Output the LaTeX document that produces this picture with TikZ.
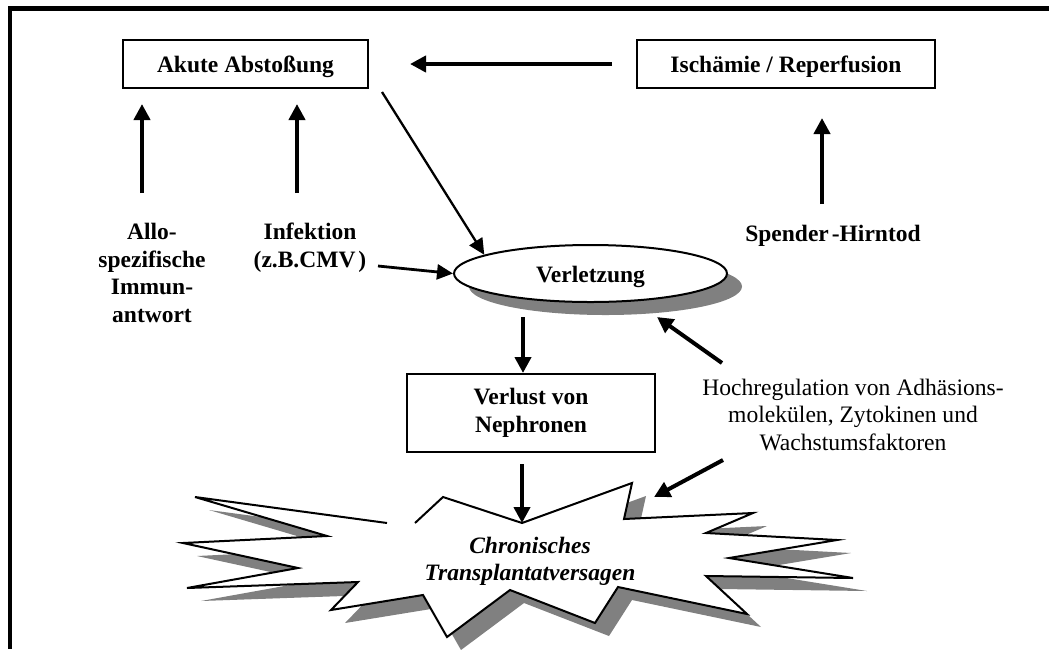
\documentclass[tikz,border=0pt]{standalone}
\usepackage{fontspec}
\setmainfont{Liberation Serif}
\usetikzlibrary{arrows.meta,shapes.geometric,shadows}
\definecolor{shade}{HTML}{808080}
% outline of the jagged "burst" shape
\newcommand\starpoly[1]{\path[#1] (195,497) -- (327,536) -- (183,543) -- (298,568)
  -- (187,588) -- (358,582) -- (331,610) -- (423,595) -- (447,637) -- (510,590)
  -- (595,623) -- (618,587) -- (747,614) -- (706,576) -- (853,578) -- (729,558)
  -- (837,540) -- (706,533) -- (753,513) -- (624,519) -- (632,483) -- (522,523)
  -- (443,497) -- (411,526) -- cycle;}
\begin{document}
\begin{tikzpicture}[x=1pt,y=-1pt,
  every node/.style={inner sep=0pt},
  txt/.style={font=\fontsize{23.5}{27.6}\selectfont\bfseries, align=center},
  txtit/.style={font=\fontsize{23.5}{27}\selectfont\bfseries\itshape, align=center},
  plain/.style={font=\fontsize{23.6}{27.5}\selectfont, align=center},
  framebox/.style={draw, line width=2pt, fill=white,
    font=\fontsize{23.5}{27.6}\selectfont\bfseries, text height=21pt, text depth=5pt},
  arr/.style={line width=4pt, -{Triangle[length=16pt,width=16pt]}},
  thinarr/.style={line width=2.3pt, -{Triangle[length=16pt,width=15pt]}},
  midarr/.style={line width=2.8pt, -{Triangle[length=16pt,width=15pt]}},
  burst/.style={line width=2pt}
]
\useasboundingbox (0,0) rectangle (1049,649);

% page frame (top and left rules)
\draw[line width=4.5pt] (1049,8.5) -- (10,8.5) -- (10,649);

% burst: shadow, white body, outline
\starpoly{fill=shade, shift={(14,13)}}
\starpoly{fill=white}
\draw[burst] (387,523) -- (195,497) -- (327,536) -- (183,543) -- (298,568)
  -- (187,588) -- (358,582) -- (331,610) -- (423,595) -- (447,637) -- (510,590)
  -- (595,623) -- (618,587) -- (747,614) -- (706,576) -- (853,578) -- (729,558)
  -- (837,540) -- (706,533) -- (753,513) -- (624,519) -- (632,483) -- (522,523)
  -- (443,497) -- (415,523);
\coordinate (stop) at (522,523);

% boxes and labels
\node[framebox, minimum width=245pt, minimum height=48pt] (akute) at (245.5,64) {Akute Abstoßung};
\node[framebox, minimum width=298pt, minimum height=48pt] (isch) at (786,64) {Ischämie / Reperfusion};

\node[txt] (allo) at (152,273) {Allo-\\spezifische\\Immun-\\antwort};
\node[txt] (infekt) at (310,248) {Infektion\\(z.B.CMV\kern3pt)};
\node[txt] (spender) at (833,236) {Spender\kern3pt-Hirntod};

\node[ellipse, draw, line width=2pt, fill=white, minimum width=273pt, minimum height=57pt,
  font=\fontsize{23.5}{27.6}\selectfont\bfseries, text height=22pt, text depth=5pt,
  drop shadow={shadow xshift=15pt, shadow yshift=-13pt, fill=shade, opacity=1}]
  (verl) at (590.5,273.5) {Verletzung};

\node[draw, line width=2pt, fill=white, minimum width=248pt, minimum height=78pt, txt]
  (verlust) at (531,413) {Verlust von\\Nephronen};

\node[plain] (hoch) at (853,414.5) {Hochregulation von Adhäsions-\\molekülen, Zytokinen und\\Wachstumsfaktoren};

\node[txtit] (chron) at (530,561) {Chronisches\\Transplantatversagen};

% connectors
\draw[arr, shorten <=24pt, shorten >=41pt] (isch.west) -- (akute.east);

\coordinate (allotop) at (142,193);
\draw[arr, shorten >=15pt] (allotop) -- (allotop |- akute.south);
\coordinate (infup) at (297,193);
\draw[arr, shorten >=15pt] (infup) -- (infup |- akute.south);
\coordinate (spup) at (822,204);
\draw[arr, shorten >=29pt] (spup) -- (spup |- isch.south);

\coordinate (diag) at (382,92);
\draw[thinarr] (diag) -- (verl.170);
\coordinate (infr) at (378,266);
\draw[midarr] (infr) -- (verl.west);

\coordinate (vdown) at (523,317);
\draw[arr] (vdown) -- (vdown |- verlust.north);
\draw[arr, shorten <=11pt] (verlust.south -| stop) -- (stop);

\coordinate (h1) at (722,363);
\coordinate (h1e) at (657,317);
\draw[arr] (h1) -- (h1e);
\coordinate (h2) at (723,460);
\coordinate (h2e) at (654,497);
\draw[arr] (h2) -- (h2e);
\end{tikzpicture}
\end{document}
